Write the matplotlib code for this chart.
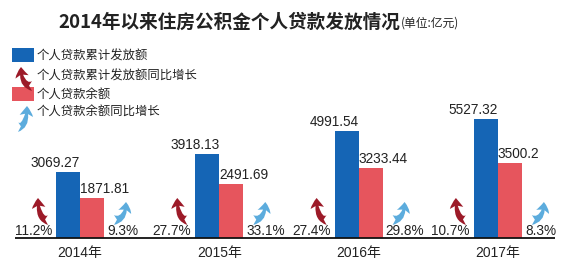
import matplotlib
matplotlib.use("Agg")
import matplotlib.pyplot as plt
from matplotlib.patches import FancyArrowPatch, Rectangle

# data
years = ["2014年", "2015年", "2016年", "2017年"]
loans_total = [3069.27, 3918.13, 4991.54, 5527.32]      # 个人贷款累计发放额
loans_balance = [1871.81, 2491.69, 3233.44, 3500.2]     # 个人贷款余额
total_growth = ["11.2%", "27.7%", "27.4%", "10.7%"]
balance_growth = ["9.3%", "33.1%", "29.8%", "8.3%"]

BLUE = "#1565b5"
RED = "#e6555d"
DARK_RED = "#9c1a28"
LIGHT_BLUE = "#5cacdd"
TXT = "#222222"

CJK = ["Noto Sans CJK SC", "DejaVu Sans"]
NUM = ["Liberation Sans", "Noto Sans CJK SC"]
ARROW = "fancy,head_length=0.55,head_width=0.75,tail_width=0.55"

W, H = 575, 272
fig = plt.figure(figsize=(W / 100, H / 100), dpi=100)
fig.patch.set_facecolor("white")

# main axes span the whole figure; 1 group = 139.3 px, first group at x=80 px
GX = 139.3
S = 1 / 0.0215  # value units per pixel
ax = fig.add_axes([0, 0, 1, 1])
ax.set_xlim(-80 / GX, (W - 80) / GX)
ax.set_ylim(-34 * S, 238 * S)
ax.axis("off")

bw = 24 / GX
xs = list(range(len(years)))
ax.bar([x - bw / 2 for x in xs], loans_total, width=bw, color=BLUE, linewidth=0)
ax.bar([x + bw / 2 for x in xs], loans_balance, width=bw, color=RED, linewidth=0)

# baseline
ax.plot([-65 / GX, 475 / GX], [0, 0], color="#111111", lw=1.3, solid_capstyle="butt")


def arrow(p_tail, p_head, color):
    a = FancyArrowPatch(p_tail, p_head, transform=ax.transData,
                        connectionstyle="angle3,angleA=0,angleB=90",
                        arrowstyle=ARROW, mutation_scale=13, color=color, lw=0,
                        shrinkA=0, shrinkB=0)
    ax.add_patch(a)


for i, x in enumerate(xs):
    ax.text(x, loans_total[i] + 2 * S, f"{loans_total[i]:g}", ha="right", va="bottom",
            fontsize=9.8, color=TXT, family=NUM)
    ax.text(x, loans_balance[i] + 2 * S, f"{loans_balance[i]:g}", ha="left", va="bottom",
            fontsize=9.8, color=TXT, family=NUM)
    ax.text(x - 28 / GX, 3 * S, total_growth[i], ha="right", va="baseline",
            fontsize=9.8, color=TXT, family=NUM)
    ax.text(x + 27 / GX, 3 * S, balance_growth[i], ha="left", va="baseline",
            fontsize=9.8, color=TXT, family=NUM)
    ax.text(x, -15 * S, years[i], ha="center", va="center",
            fontsize=10, color=TXT, family=NUM)
    # growth arrows
    arrow((x - 32 / GX, 18 * S), (x - 42 / GX, 40 * S), DARK_RED)
    arrow((x + 34 / GX, 18 * S), (x + 46 / GX, 36 * S), LIGHT_BLUE)


def fx(px):
    return px / W


def fy(py):
    return 1 - py / H


# title
title = fig.text(fx(58), fy(22), "2014年以来住房公积金个人贷款发放情况", ha="left", va="center",
                 fontsize=13.4, fontweight="bold", color=TXT, family=CJK)
bb = title.get_window_extent(renderer=fig.canvas.get_renderer())
fig.text(bb.x1 / W + fx(1), fy(23), "(单位:亿元)", ha="left", va="center",
         fontsize=8.5, color=TXT, family=CJK)

# legend
fig.patches.append(Rectangle((fx(12), fy(62)), fx(34) - fx(12), fy(48) - fy(62),
                             transform=fig.transFigure, color=BLUE, lw=0))
fig.patches.append(Rectangle((fx(12), fy(101)), fx(34) - fx(12), fy(87) - fy(101),
                             transform=fig.transFigure, color=RED, lw=0))
for p_tail, p_head, c in [((32, 86), (21, 67), DARK_RED), ((18, 127), (27, 106), LIGHT_BLUE)]:
    fig.patches.append(FancyArrowPatch((fx(p_tail[0]), fy(p_tail[1])),
                                       (fx(p_head[0]), fy(p_head[1])),
                                       transform=fig.transFigure,
                                       connectionstyle="angle3,angleA=0,angleB=90",
                                       arrowstyle=ARROW, mutation_scale=13,
                                       color=c, lw=0, shrinkA=0, shrinkB=0))

legend_labels = ["个人贷款累计发放额", "个人贷款累计发放额同比增长", "个人贷款余额", "个人贷款余额同比增长"]
legend_y = [56, 76, 95, 112]
for lab, py in zip(legend_labels, legend_y):
    fig.text(fx(37), fy(py), lab, ha="left", va="center", fontsize=8.9, color=TXT, family=CJK)

fig.savefig("out.png", dpi=100, facecolor="white")
